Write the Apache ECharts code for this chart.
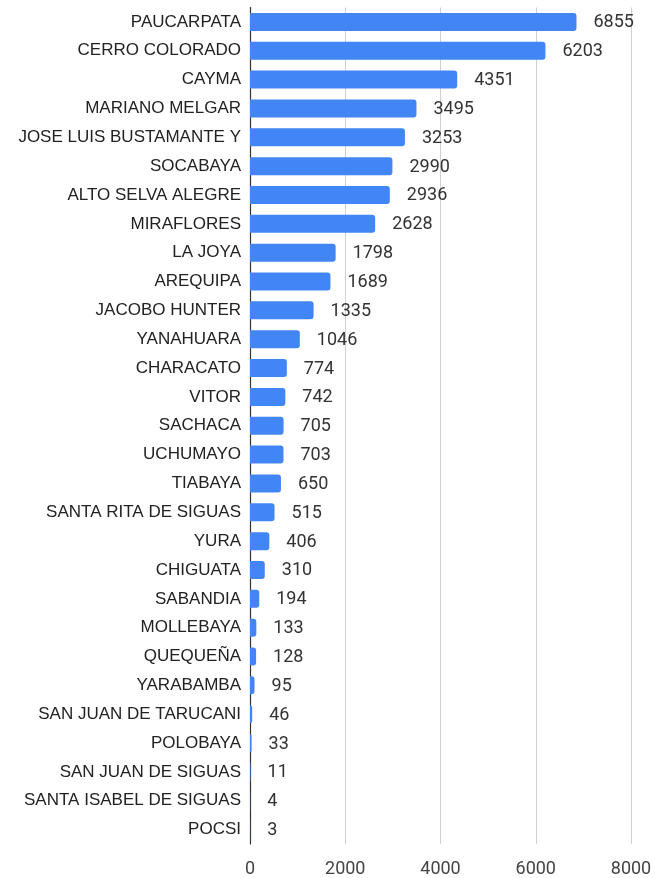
<!DOCTYPE html>
<html>
<head>
<meta charset="utf-8">
<script src="https://cdn.jsdelivr.net/npm/echarts@6/dist/echarts.min.js"></script>
<style>
  html, body { margin: 0; padding: 0; background: #fff; }
  #chart { width: 655px; height: 878px; }
</style>
</head>
<body>
<div id="chart"></div>
<script>
// Districts, ordered from largest to smallest count
const districts = [
  'PAUCARPATA', 'CERRO COLORADO', 'CAYMA', 'MARIANO MELGAR', 'JOSE LUIS BUSTAMANTE Y',
  'SOCABAYA', 'ALTO SELVA ALEGRE', 'MIRAFLORES', 'LA JOYA', 'AREQUIPA',
  'JACOBO HUNTER', 'YANAHUARA', 'CHARACATO', 'VITOR', 'SACHACA',
  'UCHUMAYO', 'TIABAYA', 'SANTA RITA DE SIGUAS', 'YURA', 'CHIGUATA',
  'SABANDIA', 'MOLLEBAYA', 'QUEQUEÑA', 'YARABAMBA', 'SAN JUAN DE TARUCANI',
  'POLOBAYA', 'SAN JUAN DE SIGUAS', 'SANTA ISABEL DE SIGUAS', 'POCSI'
];
const counts = [
  6855, 6203, 4351, 3495, 3253,
  2990, 2936, 2628, 1798, 1689,
  1335, 1046, 774, 742, 705,
  703, 650, 515, 406, 310,
  194, 133, 128, 95, 46,
  33, 11, 4, 3
];
const xTicks = { min: 0, max: 8000, interval: 2000 };

const chart = echarts.init(document.getElementById('chart'));
chart.setOption({
  animation: false,
  grid: { left: 250, right: 24, top: 7.5, bottom: 31.5, containLabel: false },
  xAxis: {
    type: 'value',
    min: xTicks.min, max: xTicks.max, interval: xTicks.interval,
    axisLine: { show: false },
    axisTick: { show: false },
    axisLabel: {
      color: '#444', fontSize: 18, fontFamily: 'Roboto', margin: 16,
      formatter: v => String(v)
    },
    splitLine: { lineStyle: { color: '#d0d0d0', width: 1 } }
  },
  yAxis: {
    type: 'category',
    data: districts,
    inverse: true,
    axisLine: { show: true, lineStyle: { color: '#333', width: 1.2 } },
    axisTick: { show: false },
    axisLabel: { color: '#222', fontSize: 17, fontFamily: 'Liberation Sans', margin: 9 }
  },
  series: [{
    type: 'bar',
    data: counts,
    barWidth: 18,
    itemStyle: { color: '#4285f4', borderRadius: [0, 3, 3, 0] },
    label: {
      show: true,
      position: 'right',
      distance: 17,
      color: '#333',
      fontSize: 18,
      fontFamily: 'Roboto',
      offset: [0, 1]
    }
  }]
});
</script>
</body>
</html>
